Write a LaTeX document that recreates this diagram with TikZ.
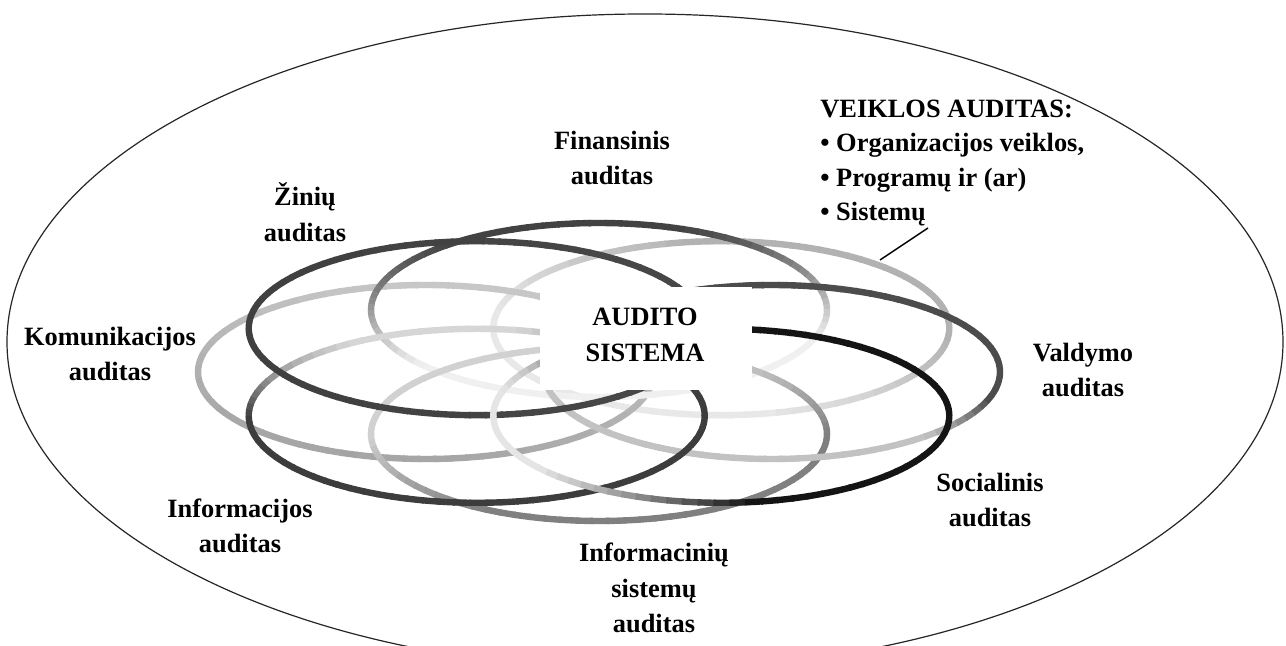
\documentclass[tikz,border=0pt]{standalone}
\usepackage{fontspec}
\setmainfont{Liberation Serif}
% One ring of the flower: an ellipse drawn in short arcs whose grey level
% follows the angle. Arguments: centre x, centre y, angle of the darkest
% point, darkest grey (percent black), lightest grey, lower and upper cosine limits.
\newcommand\gradring[7]{%
  \foreach \p in {0,4,...,356}{%
    \pgfmathsetmacro\rngt{max(0,min(1,(cos(\p+2-#3)-(#6))/((#7)-(#6))))}%
    \pgfmathtruncatemacro\rngg{#5+(#4-#5)*\rngt}%
    \draw[ringline, draw=black!\rngg]
      ({#1+228*cos(\p)},{#2+87*sin(\p)})
      arc[start angle=\p, end angle=\p+4.6, x radius=228, y radius=87];
  }%
}
\begin{document}
\begin{tikzpicture}[x=0.5pt,y=0.5pt,
  lbl/.style={font=\bfseries\fontsize{13.2}{17.8}\selectfont, align=center, inner sep=0pt},
  outerline/.style={draw=black!85, line width=0.6pt},
  ringline/.style={line width=3.2pt, line cap=butt},
  pointer/.style={draw=black, line width=0.7pt}]
\useasboundingbox (0,0) rectangle (1286,646);
\fill[white] (0,0) rectangle (1286,646);

% outer boundary
\draw[outerline] (645,304) ellipse [x radius=638, y radius=328];

% eight rings around the centre
\gradring{721.3}{317.8}{45}{30}{9}{-0.6}{0.6}      % Veiklos
\gradring{426}{274}{250}{36}{22}{-1}{1}            % Komunikacijos
\gradring{599}{336}{100}{74}{6}{-0.5}{0.85}        % Finansinis
\gradring{599}{212}{300}{50}{18}{-0.5}{0.5}        % Informaciniu sistemu
\gradring{772}{274}{60}{70}{24}{-0.3}{0.2}         % Valdymo
\gradring{476.7}{230.2}{282}{76}{16}{-0.95}{-0.2}  % Informacijos
\gradring{476.7}{317.8}{180}{76}{72}{-1}{1}        % Ziniu
\gradring{721.3}{230.2}{10}{92}{10}{-0.9}{-0.05}   % Socialinis

% cleared centre
\fill[white] (540,256) rectangle (752,359);
\node[lbl] (centre) at (645,311) {AUDITO\\SISTEMA};

% labels
\node[lbl] (fin) at (612,488) {Finansinis\\auditas};
\node[lbl] (zin) at (305,434) {Žinių\\auditas};
\node[lbl] (kom) at (110,292) {Komunikacijos\\auditas};
\node[lbl] (inf) at (240,120) {Informacijos\\auditas};
\node[lbl] (ins) at (654,58) {Informacinių\\sistemų\\auditas};
\node[lbl] (soc) at (990,146) {Socialinis\\auditas};
\node[lbl] (val) at (1083,276) {Valdymo\\auditas};
\node[lbl, align=left, anchor=west, font=\bfseries\fontsize{13.2}{17.3}\selectfont]
  (veik) at (820,483) {VEIKLOS AUDITAS:\\• Organizacijos veiklos,\\• Programų ir (ar)\\• Sistemų};

% pointer from the list to its ring
\coordinate (tipA) at (928,418);
\coordinate (tipB) at (880,386);
\draw[pointer] (tipA) -- (tipB);
\end{tikzpicture}
\end{document}
